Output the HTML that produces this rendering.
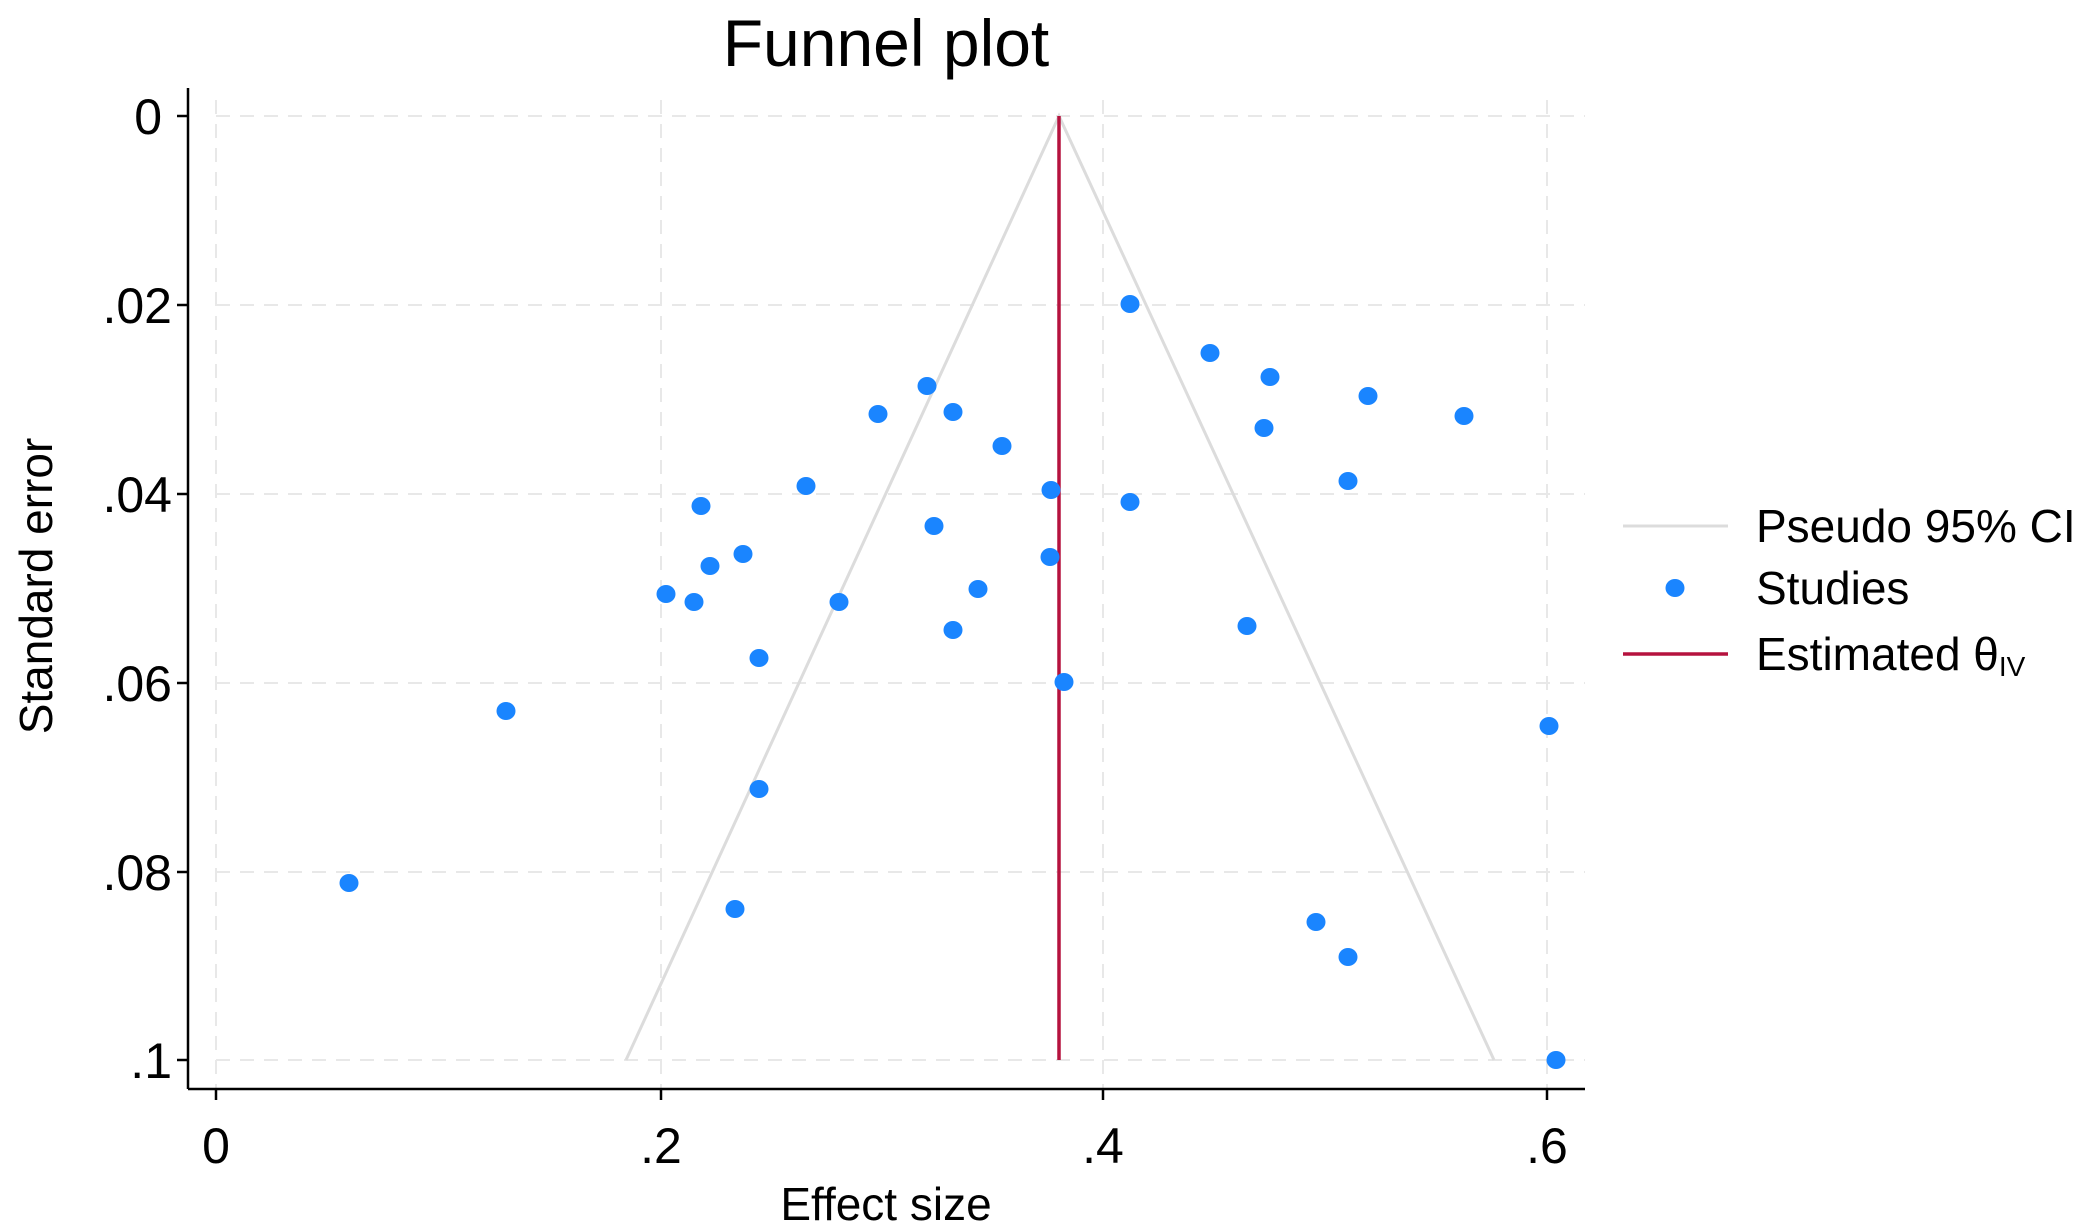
<!DOCTYPE html>
<html><head><meta charset="utf-8"><style>
html,body{margin:0;padding:0;background:#fff;}
svg{display:block;font-family:"Liberation Sans",Arial,sans-serif;}
</style></head><body>
<svg width="2089" height="1231" viewBox="0 0 2089 1231" xmlns="http://www.w3.org/2000/svg">
<rect width="2089" height="1231" fill="#fff"/>
<g stroke="#e8e8e8" stroke-width="2" stroke-dasharray="14,10">
<line x1="216" y1="116" x2="1585" y2="116"/>
<line x1="216" y1="305" x2="1585" y2="305"/>
<line x1="216" y1="494" x2="1585" y2="494"/>
<line x1="216" y1="683" x2="1585" y2="683"/>
<line x1="216" y1="872" x2="1585" y2="872"/>
<line x1="216" y1="1060" x2="1585" y2="1060"/>
<line x1="216" y1="100" x2="216" y2="1088"/>
<line x1="661" y1="100" x2="661" y2="1088"/>
<line x1="1103" y1="100" x2="1103" y2="1088"/>
<line x1="1547" y1="100" x2="1547" y2="1088"/>
</g>
<polyline points="626,1060 1059,116 1494,1060" fill="none" stroke="#dcdcdc" stroke-width="3"/>
<line x1="1059" y1="116" x2="1059" y2="1060" stroke="#b5123e" stroke-width="3.5"/>
<g fill="#1a85ff">
<ellipse cx="1130" cy="304" rx="9.5" ry="9"/><ellipse cx="1210" cy="353" rx="9.5" ry="9"/>
<ellipse cx="1270" cy="377" rx="9.5" ry="9"/><ellipse cx="1368" cy="396" rx="9.5" ry="9"/>
<ellipse cx="1464" cy="416" rx="9.5" ry="9"/><ellipse cx="1264" cy="428" rx="9.5" ry="9"/>
<ellipse cx="1348" cy="481" rx="9.5" ry="9"/><ellipse cx="1130" cy="502" rx="9.5" ry="9"/>
<ellipse cx="927" cy="386" rx="9.5" ry="9"/><ellipse cx="953" cy="412" rx="9.5" ry="9"/>
<ellipse cx="878" cy="414" rx="9.5" ry="9"/><ellipse cx="1002" cy="446" rx="9.5" ry="9"/>
<ellipse cx="1051" cy="490" rx="9.5" ry="9"/><ellipse cx="806" cy="486" rx="9.5" ry="9"/>
<ellipse cx="701" cy="506" rx="9.5" ry="9"/><ellipse cx="934" cy="526" rx="9.5" ry="9"/>
<ellipse cx="743" cy="554" rx="9.5" ry="9"/><ellipse cx="710" cy="566" rx="9.5" ry="9"/>
<ellipse cx="1050" cy="557" rx="9.5" ry="9"/><ellipse cx="978" cy="589" rx="9.5" ry="9"/>
<ellipse cx="666" cy="594" rx="9.5" ry="9"/><ellipse cx="694" cy="602" rx="9.5" ry="9"/>
<ellipse cx="839" cy="602" rx="9.5" ry="9"/><ellipse cx="1247" cy="626" rx="9.5" ry="9"/>
<ellipse cx="953" cy="630" rx="9.5" ry="9"/><ellipse cx="759" cy="658" rx="9.5" ry="9"/>
<ellipse cx="1064" cy="682" rx="9.5" ry="9"/><ellipse cx="506" cy="711" rx="9.5" ry="9"/>
<ellipse cx="1549" cy="726" rx="9.5" ry="9"/><ellipse cx="759" cy="789" rx="9.5" ry="9"/>
<ellipse cx="349" cy="883" rx="9.5" ry="9"/><ellipse cx="735" cy="909" rx="9.5" ry="9"/>
<ellipse cx="1316" cy="922" rx="9.5" ry="9"/><ellipse cx="1348" cy="957" rx="9.5" ry="9"/>
<ellipse cx="1556" cy="1060" rx="9.5" ry="9"/>
</g>
<g stroke="#000" stroke-width="2.5">
<line x1="188" y1="88" x2="188" y2="1089"/>
<line x1="188" y1="1089" x2="1585" y2="1089"/>
<line x1="177" y1="116" x2="188" y2="116"/><line x1="177" y1="305" x2="188" y2="305"/>
<line x1="177" y1="494" x2="188" y2="494"/><line x1="177" y1="683" x2="188" y2="683"/>
<line x1="177" y1="872" x2="188" y2="872"/><line x1="177" y1="1060" x2="188" y2="1060"/>
<line x1="216" y1="1089" x2="216" y2="1100"/><line x1="661" y1="1089" x2="661" y2="1100"/>
<line x1="1103" y1="1089" x2="1103" y2="1100"/><line x1="1547" y1="1089" x2="1547" y2="1100"/>
</g>
<g font-size="50" fill="#000" text-anchor="end">
<text x="162" y="134">0</text><text x="172" y="323">.02</text><text x="172" y="512">.04</text>
<text x="172" y="701">.06</text><text x="172" y="890">.08</text><text x="172" y="1078">.1</text>
</g>
<g font-size="50" fill="#000" text-anchor="middle">
<text x="216" y="1163">0</text><text x="661" y="1163">.2</text>
<text x="1103" y="1163">.4</text><text x="1547" y="1163">.6</text>
</g>
<text x="886" y="1220" font-size="46" text-anchor="middle">Effect size</text>
<text transform="translate(52,586) rotate(-90)" font-size="46" text-anchor="middle">Standard error</text>
<text x="886" y="66" font-size="66" text-anchor="middle">Funnel plot</text>
<line x1="1623" y1="526" x2="1728" y2="526" stroke="#dcdcdc" stroke-width="3"/>
<ellipse cx="1675" cy="588" rx="9.5" ry="9" fill="#1a85ff"/>
<line x1="1623" y1="654" x2="1728" y2="654" stroke="#b5123e" stroke-width="3.5"/>
<g font-size="46" fill="#000">
<text x="1756" y="542">Pseudo 95% CI</text>
<text x="1756" y="604">Studies</text>
<text x="1756" y="670">Estimated θ<tspan font-size="28" dy="6">IV</tspan></text>
</g>
</svg>
</body></html>
